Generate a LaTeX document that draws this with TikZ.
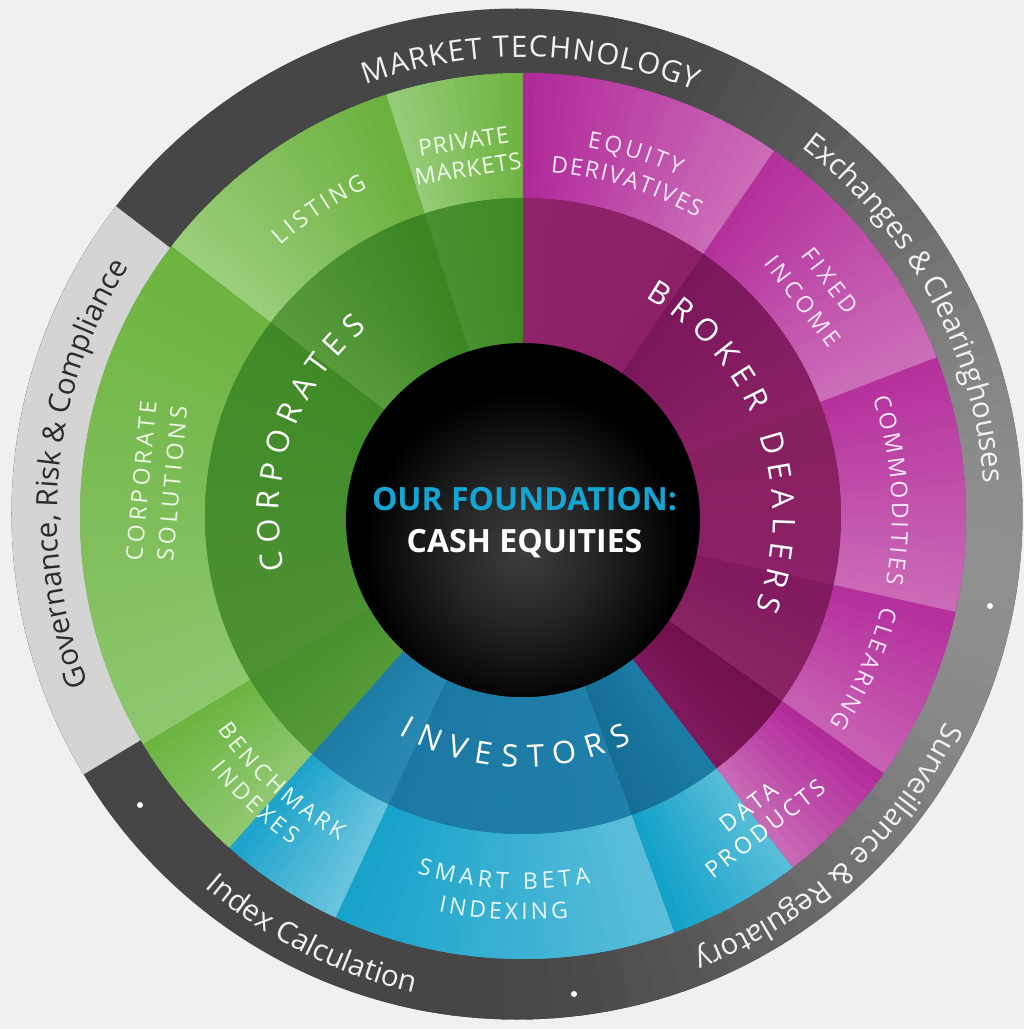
\documentclass[tikz,border=0pt]{standalone}
\usepackage{fontspec}
\setmainfont{Open Sans}
\newfontfamily\fR{Open Sans}
\newfontfamily\fSA[LetterSpace=16]{Open Sans}
\newfontfamily\fSC[LetterSpace=4]{Open Sans}
\usetikzlibrary{decorations.text}

\definecolor{bg}{HTML}{F0F0F0}
\definecolor{ringD}{HTML}{464646}
\definecolor{ringL}{HTML}{8F8F8F}
\definecolor{ringG}{HTML}{D4D4D4}
\definecolor{ringtxt}{HTML}{F2F2F2}
\definecolor{govtxt}{HTML}{2B2B2B}
\definecolor{gBase}{HTML}{5A9E3A}
\definecolor{bBase}{HTML}{1A8AB5}
\definecolor{mBase}{HTML}{9E2582}
\definecolor{glowA}{HTML}{3E3E3E}
\definecolor{glowB}{HTML}{262626}
\definecolor{founda}{HTML}{14A5D3}
\definecolor{gtxt}{HTML}{EEF8E8}
\definecolor{btxt}{HTML}{E8F7FB}
\definecolor{mtxt}{HTML}{FBE8F6}

\pgfdeclareradialshading{glow}{\pgfpoint{0bp}{0bp}}{color(0bp)=(glowA); color(11bp)=(glowB); color(25bp)=(black); color(50bp)=(black)}

\newcommand\fsRing{\fontsize{29.5}{34}\selectfont}
\newcommand\fsBig{\fontsize{31}{36}\selectfont}
\newcommand\fsSub{\fontsize{23}{28}\selectfont}

% angular gradient sector: start, end, r-in, r-out, colour at start, colour at end
\newcommand\gsector[6]{%
  \definecolor{tmpA}{HTML}{#5}\definecolor{tmpB}{HTML}{#6}%
  \pgfmathtruncatemacro\nN{max(2,round(abs(#2-#1)/1.5))}%
  \foreach \k in {1,...,\nN}{%
    \pgfmathsetmacro\tA{#1+(#2-#1)*(\k-1)/\nN}%
    \pgfmathsetmacro\tB{#1+(#2-#1)*min(\k+0.8,\nN)/\nN}%
    \pgfmathtruncatemacro\pp{round(100*(\k-0.5)/\nN)}%
    \fill[tmpB!\pp!tmpA] (\tA:#3pt) arc[start angle=\tA,end angle=\tB,radius=#3pt]
      -- (\tB:#4pt) arc[start angle=\tB,end angle=\tA,radius=#4pt] -- cycle;
  }%
}
\newcommand\bsector[5]{%
  \fill[#5] (#1:#3pt) arc[start angle=#1,end angle=#2,radius=#3pt]
    -- (#2:#4pt) arc[start angle=#2,end angle=#1,radius=#4pt] -- cycle;}
% plain text on arcs: centre angle, half span, baseline radius, font, colour, text
\newcommand\txtout[6]{%
  \pgfmathsetmacro\tsA{#1+#2}\pgfmathsetmacro\tsE{#1-#2}%
  \path[decorate,decoration={text along path,text align=center,text={|#4\color{#5}|#6}}]
    (\tsA:#3pt) arc[start angle=\tsA,end angle=\tsE,radius=#3pt];}
\newcommand\txtin[6]{%
  \pgfmathsetmacro\tsA{#1-#2}\pgfmathsetmacro\tsE{#1+#2}%
  \path[decorate,decoration={text along path,text align=center,text={|#4\color{#5}|#6}}]
    (\tsA:#3pt) arc[start angle=\tsA,end angle=\tsE,radius=#3pt];}

% letter widths, measured outside the picture
\newdimen\lwA
\def\zeroch{0}
\newcommand\mset[3]{\foreach \ch in {#3}{\settowidth{\lwA}{#2\ch}\expandafter\xdef\csname lwX#1X\ch\endcsname{\the\lwA}}}
% letter-spaced text on arcs, letter by letter ('0' = word space)
% #1 centre angle, #2 baseline radius, #3 font, #4 colour, #5 extra gap (pt),
% #6 direction (1 = clockwise, tops out; -1 = counter-clockwise, tops in), #7 width table, #8 letters
\newcommand\arcword[8]{%
  \gdef\posX{0}%
  \foreach \ch in {#8}{\pgfmathsetmacro\tmpw{\posX+\csname lwX#7X\ch\endcsname+#5}\xdef\posX{\tmpw}}%
  \pgfmathsetmacro\posS{-0.5*(\posX-#5)}%
  \xdef\posX{\posS}%
  \foreach \ch in {#8}{%
    \edef\wA{\csname lwX#7X\ch\endcsname}%
    \pgfmathsetmacro\posC{\posX+0.5*\wA}%
    \pgfmathsetmacro\angC{#1-(#6)*\posC/#2*180/pi}%
    \pgfmathsetmacro\rotC{\angC-(#6)*90}%
    \ifx\ch\zeroch\else
      \node[anchor=base,inner sep=0,text=#4,font=#3,rotate=\rotC] at (\angC:#2pt) {\ch};
    \fi
    \pgfmathsetmacro\posN{\posX+\wA+#5}%
    \xdef\posX{\posN}%
  }%
}

\begin{document}%
\mset{B}{\fR\fsBig}{A,B,C,D,E,I,K,L,N,O,P,R,S,T,V}%
\mset{S}{\fR\fsSub}{A,B,C,D,E,G,H,I,K,L,M,N,O,Q,R,S,T,U,V,X,Y}%
\mset{R}{\fR\fsRing}{A,C,E,G,H,K,L,M,N,O,R,T,Y}%
\settowidth{\lwA}{\fR\fsBig\ }\expandafter\xdef\csname lwXBX0\endcsname{\the\lwA}%
\settowidth{\lwA}{\fR\fsSub\ }\expandafter\xdef\csname lwXSX0\endcsname{\the\lwA}%
\settowidth{\lwA}{\fR\fsRing\ }\expandafter\xdef\csname lwXRX0\endcsname{\the\lwA}%
\begin{tikzpicture}[x=1pt,y=1pt]
\useasboundingbox (-523,-513) rectangle (501,516);
\fill[bg] (-523,-513) rectangle (501,516);

% ---------- outer ring ----------
\begin{scope}[shift={(-6,2)}]
  \fill[ringD] (0,0) circle[radius=505.5pt];
  \foreach \a in {-104,-101,...,84}{%
    \pgfmathtruncatemacro\pp{round(100*(max(0,cos(\a+8)))^2)}%
    \fill[ringL!\pp!ringD] (0,0) -- (\a:505.5pt) arc[start angle=\a,end angle=\a+3.8,radius=505.5pt] -- cycle;
  }
  \fill[ringG] (0,0) -- (142.5:505.5pt) arc[start angle=142.5,end angle=211,radius=505.5pt] -- cycle;
  \fill[white] (473,-92) circle[radius=3pt];
  \fill[white] (57,-480) circle[radius=3pt];
  \fill[white] (-377,-291) circle[radius=3pt];
\end{scope}

% ---------- base fills ----------
\bsector{90}{228.5}{168}{443}{gBase}
\bsector{228.5}{307.5}{168}{443}{bBase}
\bsector{307.5}{450}{168}{443}{mBase}

% ---------- outer band ----------
\gsector{90}{108}{318}{443}{6DB33F}{97CC7A}
\gsector{108}{142.5}{318}{443}{6AB03C}{9BCE7C}
\gsector{142.5}{211}{318}{443}{6CB33F}{8FC770}
\gsector{211}{228.5}{318}{443}{6AB43F}{90C872}
\gsector{228.5}{245}{318}{443}{1AA2CA}{6CC5DE}
\gsector{245}{290}{318}{443}{16A2CA}{5CBEDA}
\gsector{290}{307.5}{318}{443}{0FA0C8}{5ABDD8}
\gsector{307.5}{324.5}{318}{443}{C86CB6}{B1289A}
\gsector{324.5}{347.5}{318}{443}{C862B3}{B42D9C}
\gsector{347.5}{381}{318}{443}{CB6BB8}{B5309C}
\gsector{381}{415.5}{318}{443}{CC6FBA}{B3309B}
\gsector{415.5}{450}{318}{443}{CC6DB9}{AF2899}

% ---------- inner band ----------
\gsector{90}{108}{168}{318}{3D8A25}{4A9030}
\gsector{108}{142.5}{168}{318}{3A8522}{589B3E}
\gsector{142.5}{211}{168}{318}{3F8A27}{4D9133}
\gsector{211}{228.5}{168}{318}{46902D}{559A3A}
\gsector{228.5}{245}{168}{318}{1D7CA6}{2889B2}
\gsector{245}{290}{168}{318}{1A78A2}{2180AB}
\gsector{290}{307.5}{168}{318}{146D94}{1C7DA6}
\gsector{307.5}{324.5}{168}{318}{7F195C}{70104C}
\gsector{324.5}{347.5}{168}{318}{8A2464}{80195D}
\gsector{347.5}{381}{168}{318}{8B2167}{86205F}
\gsector{381}{415.5}{168}{318}{8A2065}{7A175A}
\gsector{415.5}{450}{168}{318}{8B2066}{90246B}

% ---------- centre ----------
\fill[black] (0,-4) circle[radius=177pt];
\begin{scope}
  \clip (0,-4) circle[radius=177pt];
  \shade[shading=glow] (0,-35) circle[radius=160pt];
\end{scope}
\node[name=found, anchor=base, inner sep=0, text=founda, font=\fR\bfseries\fontsize{32}{38}\selectfont] at (1.5,6) {OUR FOUNDATION:};
\node[name=cash, anchor=base, inner sep=0, text=white, font=\fR\bfseries\fontsize{32}{38}\selectfont] at (1.5,-36) {CASH EQUITIES};

% ---------- ring texts ----------
\arcword{89}{459}{\fR\fsRing}{ringtxt}{1.3}{1}{R}{M,A,R,K,E,T,0,T,E,C,H,N,O,L,O,G,Y}
\txtout{28.5}{45}{462}{\fR\fsRing}{ringtxt}{Exchanges {\&} Clearinghouses}
\txtout{-47.3}{45}{470}{\fR\fsRing}{ringtxt}{Surveillance {\&} Regulatory}
\txtout{174.4}{45}{466}{\fR\fsRing}{govtxt}{Governance, Risk {\&} Compliance}
\txtin{243.25}{45}{489}{\fR\fsRing}{ringtxt}{Index Calculation}

% ---------- big labels ----------
\arcword{161.2}{244}{\fR\fsBig}{white}{8}{1}{B}{C,O,R,P,O,R,A,T,E,S}
\arcword{19.5}{250}{\fR\fsBig}{white}{8}{1}{B}{B,R,O,K,E,R,0,D,E,A,L,E,R,S}
\arcword{268}{251}{\fR\fsBig}{white}{10}{-1}{B}{I,N,V,E,S,T,O,R,S}

% ---------- sub labels on arcs ----------
\arcword{72.75}{374}{\fR\fsSub}{mtxt}{3.4}{1}{S}{E,Q,U,I,T,Y}
\arcword{72.55}{345}{\fR\fsSub}{mtxt}{1.8}{1}{S}{D,E,R,I,V,A,T,I,V,E,S}
\arcword{123.6}{363}{\fR\fsSub}{gtxt}{3.4}{1}{S}{L,I,S,T,I,N,G}
\arcword{4}{369}{\fR\fsSub}{mtxt}{2.9}{1}{S}{C,O,M,M,O,D,I,T,I,E,S}
\arcword{-24.2}{370}{\fR\fsSub}{mtxt}{2.9}{1}{S}{C,L,E,A,R,I,N,G}
\arcword{227.7}{373}{\fR\fsSub}{gtxt}{3.3}{-1}{S}{B,E,N,C,H,M,A,R,K}
\arcword{226.9}{402}{\fR\fsSub}{gtxt}{3.4}{-1}{S}{I,N,D,E,X,E,S}
\arcword{267}{373}{\fR\fsSub}{btxt}{4.4}{-1}{S}{S,M,A,R,T,0,B,E,T,A}
\arcword{267.2}{404}{\fR\fsSub}{btxt}{3.4}{-1}{S}{I,N,D,E,X,I,N,G}

% ---------- straight sub labels ----------
\node[name=pm, rotate=9, align=center, inner sep=0, text=gtxt, font=\fSC\fontsize{23}{28}\selectfont] at (99:365.5pt) {PRIVATE\\MARKETS};
\node[name=fi, rotate=-52.5, align=center, inner sep=0, text=mtxt, font=\fSA\fontsize{23}{34}\selectfont] at (37.5:370pt) {FIXED\\INCOME};
\node[name=dp, rotate=37.8, align=center, inner sep=0, text=white, font=\fSA\fontsize{23}{27}\selectfont] at (-52.2:382pt) {DATA\\PRODUCTS};
\node[name=cs, rotate=84.7, align=center, inner sep=0, text=gtxt, font=\fSA\fontsize{23}{31}\selectfont] at (174.7:368pt) {CORPORATE\\SOLUTIONS};
\end{tikzpicture}%
\end{document}
